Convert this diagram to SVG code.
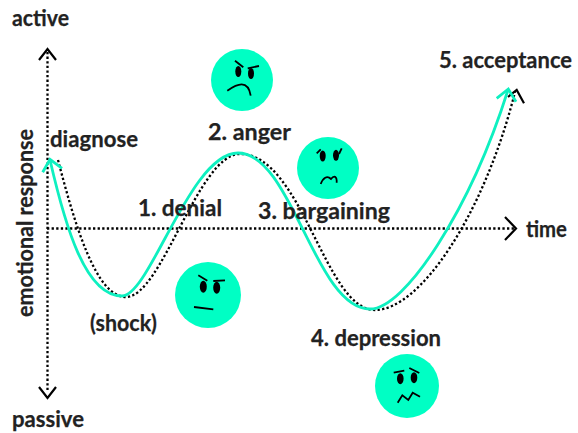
<svg xmlns="http://www.w3.org/2000/svg" width="578" height="433" viewBox="0 0 578 433">
<style>
text{font-family:"Lato","Liberation Sans",sans-serif;font-weight:700;font-size:23px;fill:#222;stroke:#222;stroke-width:.25}
.ax{fill:none;stroke:#000;stroke-width:2.3;stroke-dasharray:2.3 2.3}
.ch{fill:none;stroke:#000;stroke-width:2.2}
.cv{fill:none;stroke:#0ef0c0;stroke-width:2.8}
.fc{fill:#00ffc4}
.ln{fill:none;stroke:#000;stroke-width:1.8}
.ey{fill:#000}
</style>
<rect width="578" height="433" fill="#fff"/>
<g id="connectors">
<path class="ax" d="M47.500 52V392"/>
<path class="ax" d="M47 228.500H514"/>
<path class="ch" d="M39 60L47.500 49L56 60M39 387L47.500 398L56 387M505 217L516 228.500L505 240"/>
<path class="ax" d="M58 160C75 225 96 297 126 297C162 297 198 154 240 154C302 154 325 310 375 310C420 310 484 215 515 92"/>
<path class="ch" d="M508 97L516.700 90L524 103.300"/>
<path class="cv" d="M50 160C65 225 85 296 122 296C150 296 190 153 238 153C292 153 315 309 370 309C405 309 470 210 508 90"/>
<path class="cv" d="M42.700 172.300L50 159.300L62 168.300M496.700 98.300L508.300 89L516 101.700"/>
</g>
<g id="label-active"><text x="12" y="26" textLength="57" lengthAdjust="spacingAndGlyphs">active</text></g>
<g id="label-passive"><text x="12" y="427" textLength="72" lengthAdjust="spacingAndGlyphs">passive</text></g>
<g id="label-response"><text transform="translate(33 317) rotate(-90)" textLength="188" lengthAdjust="spacingAndGlyphs">emotional response</text></g>
<g id="label-time"><text x="526" y="237" textLength="41" lengthAdjust="spacingAndGlyphs">time</text></g>
<g id="label-diagnose"><text x="50" y="147" textLength="88" lengthAdjust="spacingAndGlyphs">diagnose</text></g>
<g id="label-shock"><text x="90" y="331" textLength="67" lengthAdjust="spacingAndGlyphs">(shock)</text></g>
<g id="label-denial"><text x="138" y="216" textLength="84" lengthAdjust="spacingAndGlyphs">1. denial</text></g>
<g id="label-anger"><text x="208" y="140" textLength="83" lengthAdjust="spacingAndGlyphs">2. anger</text></g>
<g id="label-bargaining"><text x="258" y="219" textLength="132" lengthAdjust="spacingAndGlyphs">3. bargaining</text></g>
<g id="label-depression"><text x="311" y="346" textLength="130" lengthAdjust="spacingAndGlyphs">4. depression</text></g>
<g id="label-acceptance"><text x="439" y="68" textLength="133" lengthAdjust="spacingAndGlyphs">5. acceptance</text></g>
<g id="face-anger">
<circle class="fc" cx="242" cy="80" r="31"/>
<ellipse class="ey" cx="238.300" cy="71.500" rx="3" ry="5.500"/><ellipse class="ey" cx="251" cy="73.500" rx="3" ry="5.500"/>
<path class="ln" d="M235 60.700L243.300 67.300M247.700 68.300L259 66M227.300 90.700C237 84 248 79 250.700 95.700"/>
</g>
<g id="face-bargaining">
<circle class="fc" cx="328" cy="168" r="31"/>
<ellipse class="ey" cx="322.700" cy="156" rx="3" ry="5.500"/><ellipse class="ey" cx="336" cy="155.300" rx="3" ry="5.500"/>
<path class="ln" d="M316.700 153.300L320.700 149.300M339 154L341.700 148.300M320.700 184C323 178 327 175 331 179C334 175 337 176 336.700 182.700"/>
</g>
<g id="face-denial">
<circle class="fc" cx="208" cy="295" r="33"/>
<ellipse class="ey" cx="203.300" cy="286.700" rx="3.500" ry="6"/><ellipse class="ey" cx="216.700" cy="287.700" rx="3.500" ry="6"/>
<path class="ln" d="M198.300 275.300L207.300 280.700M213.300 281L225 280.300M194 307L213.300 309.300"/>
</g>
<g id="face-depression">
<circle class="fc" cx="407" cy="386" r="32"/>
<ellipse class="ey" cx="400.300" cy="378.700" rx="3.300" ry="5.500"/><ellipse class="ey" cx="414" cy="377.700" rx="3.300" ry="5.500"/>
<path class="ln" d="M393.700 372.700L404.300 370.700M409.300 368L419.300 373M397.700 402.700L402.300 395.300L408.300 400L412.700 392.700L420 396.700"/>
</g>
</svg>
